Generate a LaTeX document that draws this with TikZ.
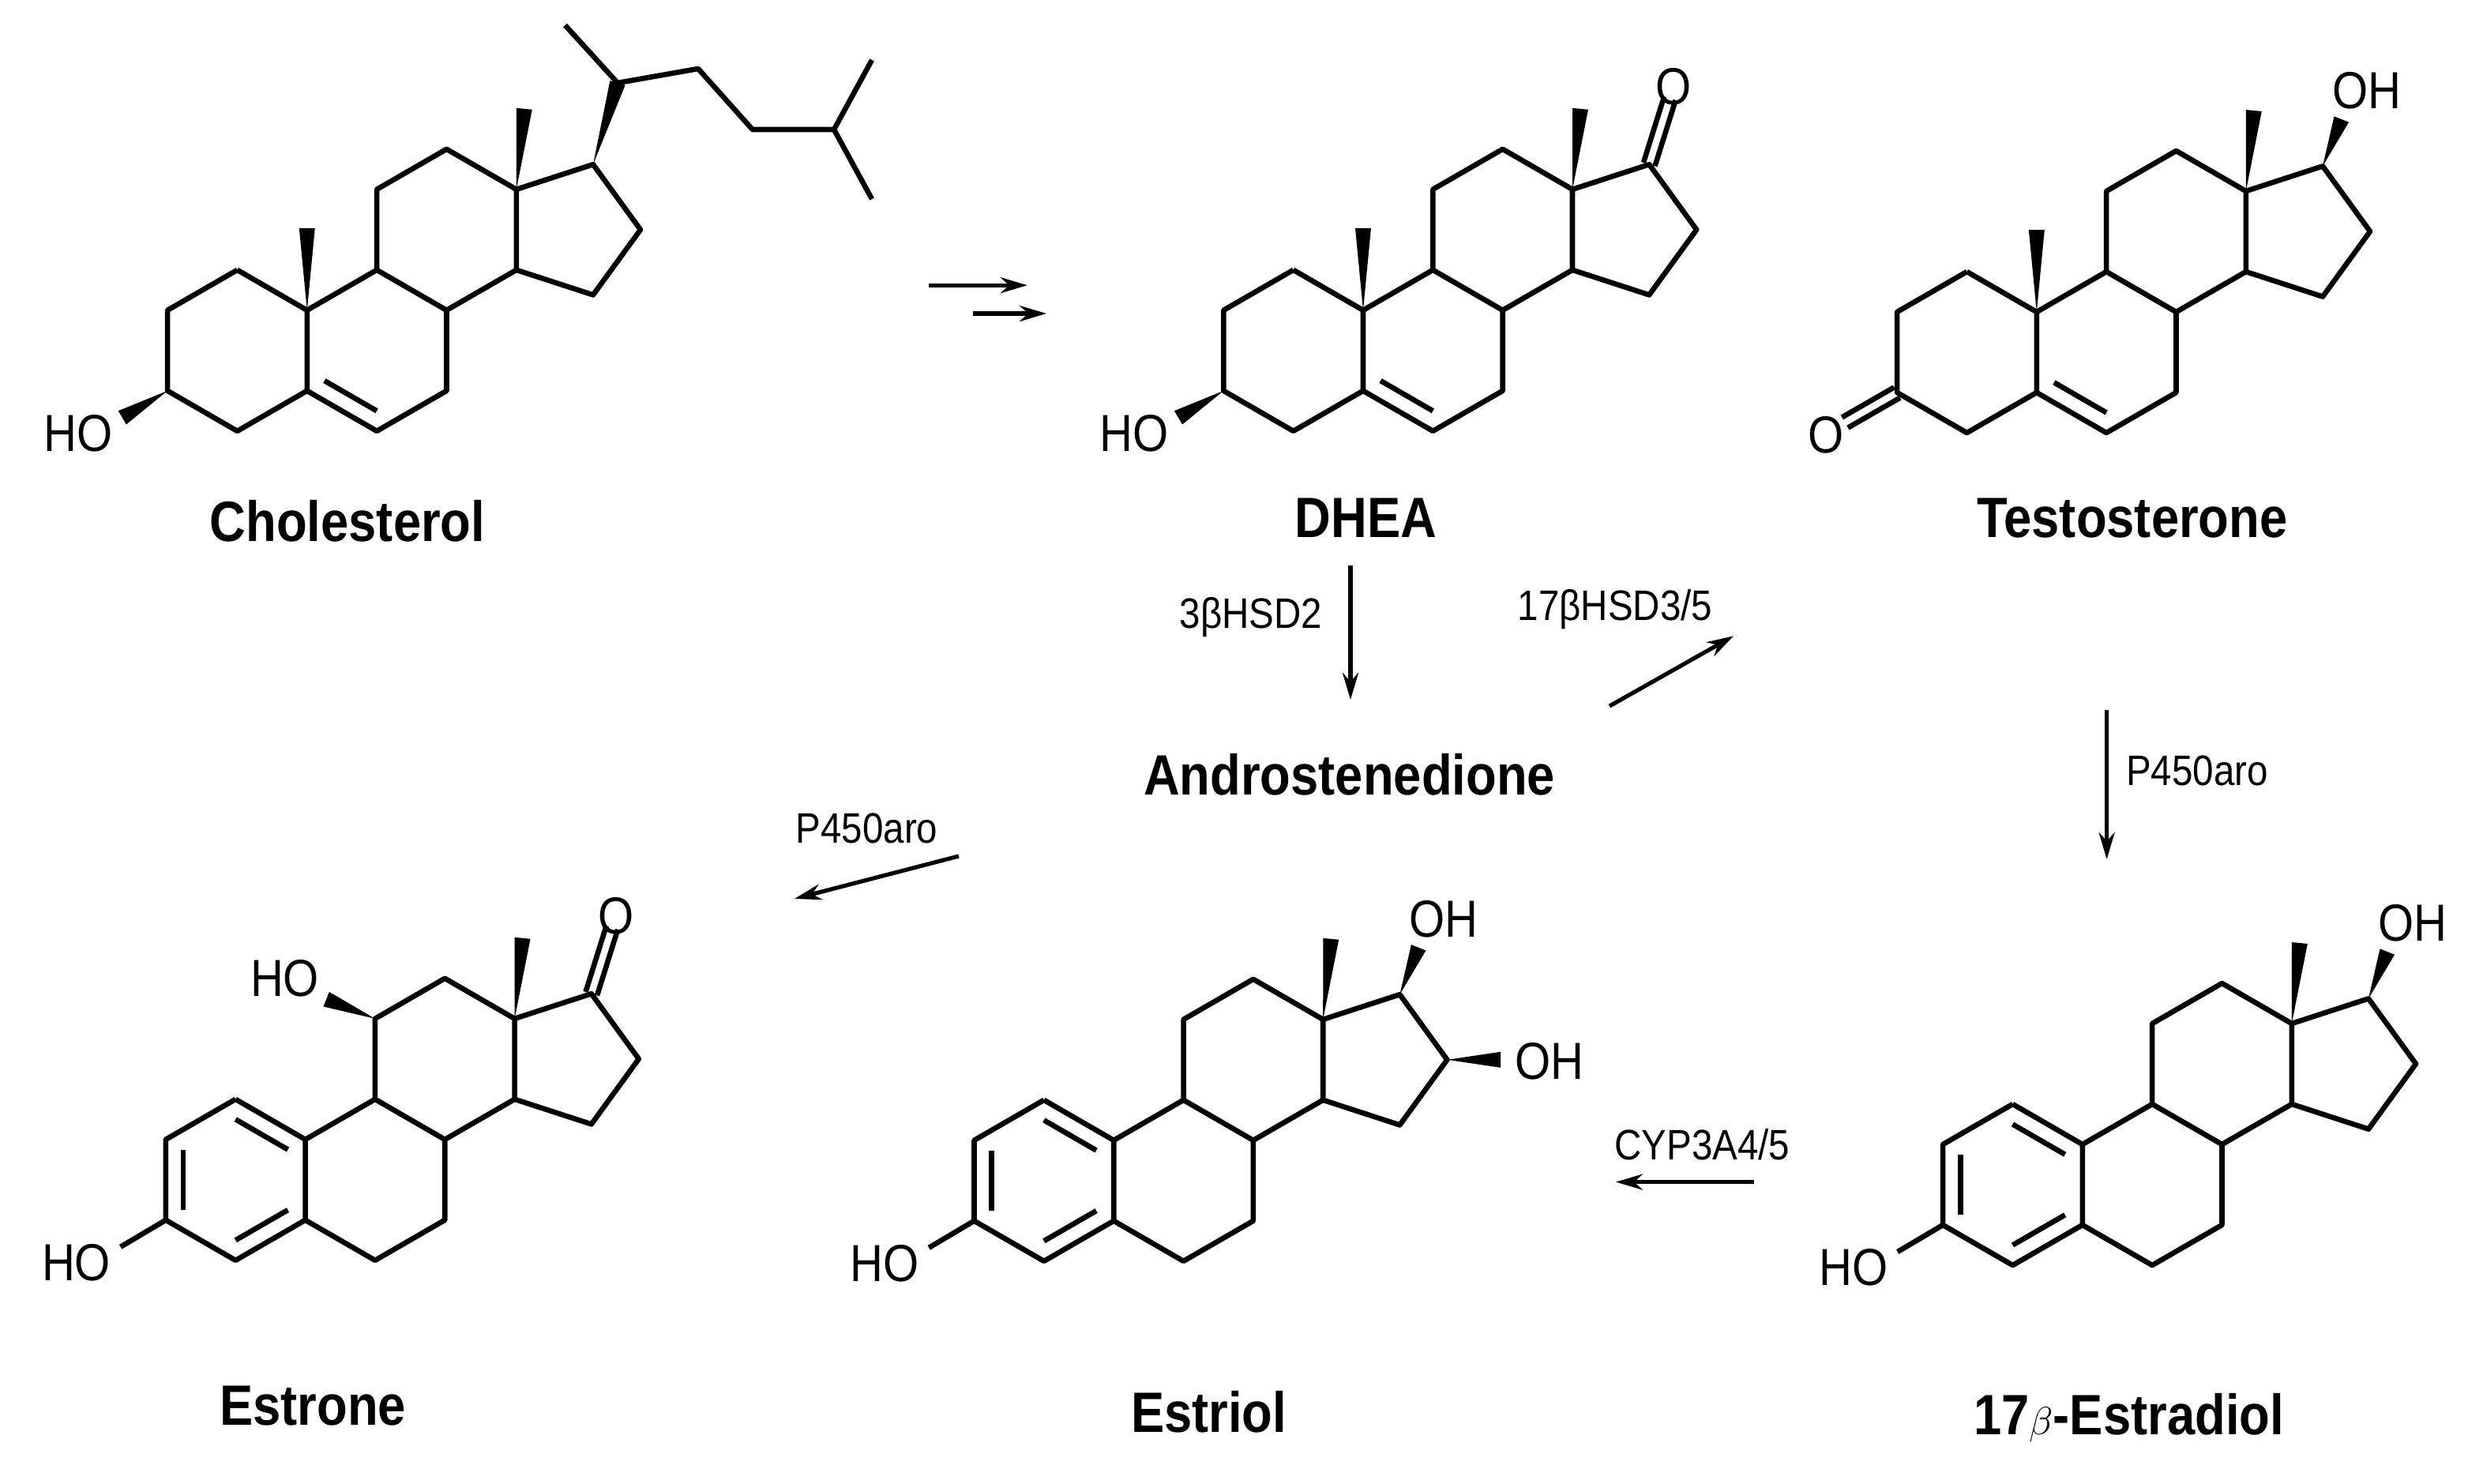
\documentclass[tikz,border=0pt]{standalone}
\usepackage{fontspec}
\setmainfont{Liberation Sans}[FakeStretch=0.88]
\usetikzlibrary{calc,arrows.meta}
\def\ssx{44.17}
\tikzset{
  bond/.style={line width=3.3pt,line join=round,line cap=butt},
  rx/.style={line width=2.6pt,-{Stealth[length=17pt,width=10pt]}},
  mol/.style={font=\bfseries\fontsize{36}{40}\selectfont,inner sep=0pt},
  atom/.style={font=\fontsize{33}{36}\selectfont,inner sep=0pt},
  enz/.style={font=\fontsize{27}{30}\selectfont,inner sep=0pt},
}
\newcommand\ster[3]{%
 \begin{scope}[shift={(#2,#3)}]
  \coordinate (#1-10) at (0,0);
  \coordinate (#1-1) at (-\ssx,-25.5);
  \coordinate (#1-2) at (-2*\ssx,0);
  \coordinate (#1-3) at (-2*\ssx,51);
  \coordinate (#1-4) at (-\ssx,76.5);
  \coordinate (#1-5) at (0,51);
  \coordinate (#1-6) at (\ssx,76.5);
  \coordinate (#1-7) at (2*\ssx,51);
  \coordinate (#1-8) at (2*\ssx,0);
  \coordinate (#1-9) at (\ssx,-25.5);
  \coordinate (#1-11) at (\ssx,-76.5);
  \coordinate (#1-12) at (2*\ssx,-102);
  \coordinate (#1-13) at (3*\ssx,-76.5);
  \coordinate (#1-14) at (3*\ssx,-25.5);
  \coordinate (#1-15) at (181.1,-9.7);
  \coordinate (#1-16) at (211.1,-51);
  \coordinate (#1-17) at (181.1,-92.3);
  \coordinate (#1-19) at (0,-52);
  \coordinate (#1-18) at (3*\ssx+5,-127.5);
  \coordinate (#1-cA) at (-\ssx,25.5);
  \coordinate (#1-cB) at (\ssx,25.5);
  \coordinate (#1-3o) at (-117,68);
  \coordinate (#1-HO) at (-145,78);
  \coordinate (#1-17o) at (193,-122);
  \coordinate (#1-OH17) at (209,-140);
  \coordinate (#1-O17) at (196.5,-141.5);
 \end{scope}
 \draw[bond] (#1-1)--(#1-2)--(#1-3)--(#1-4)--(#1-5)--(#1-10)--(#1-1);
 \draw[bond] (#1-5)--(#1-6)--(#1-7)--(#1-8)--(#1-9)--(#1-10);
 \draw[bond] (#1-9)--(#1-11)--(#1-12)--(#1-13)--(#1-14)--(#1-8);
 \draw[bond] (#1-13)--(#1-17)--(#1-16)--(#1-15)--(#1-14);
 \wdg{#1-13}{#1-18}
}
\newcommand\wdg[2]{\fill (#1) -- ($(#2)!5pt!90:(#1)$) -- ($(#2)!5pt!-90:(#1)$) -- cycle;}
\newcommand\inl[3]{\draw[bond] ($(#1)!0.25!(#3)$) -- ($(#2)!0.25!(#3)$);}
\newcommand\dbl[2]{\draw[bond] ($(#1)!3.8pt!90:(#2)$) -- ($(#2)!3.8pt!-90:(#1)$);
  \draw[bond] ($(#1)!3.8pt!-90:(#2)$) -- ($(#2)!3.8pt!90:(#1)$);}
\begin{document}
\begin{tikzpicture}[x=1pt,y=-1pt]
\useasboundingbox[fill=white] (0,0) rectangle (1572,939.5);
% Cholesterol
\ster{ch}{194.4}{196.4}
\wdg{ch-10}{ch-19}
\inl{ch-5}{ch-6}{ch-cB}
\begin{scope}[shift={(194.4,196.4)}]
 \coordinate (ch-20) at (196.6,-143.9);
 \coordinate (ch-21) at (163.4,-180.4);
 \coordinate (ch-22) at (247.6,-152.9);
 \coordinate (ch-23) at (282,-114.4);
 \coordinate (ch-24) at (333.6,-114.4);
 \coordinate (ch-26) at (357.6,-158.4);
 \coordinate (ch-27) at (357.6,-70.4);
\end{scope}
\wdg{ch-17}{ch-20}
\draw[bond] (ch-21)--(ch-20)--(ch-22)--(ch-23)--(ch-24)--(ch-26);
\draw[bond] (ch-24)--(ch-27);
\wdg{ch-3}{ch-3o}
\node[atom] (chHO) at (ch-HO) {HO};
\node[mol] (nch) at (220,330) {Cholesterol};
% DHEA
\ster{dh}{863}{196.4}
\wdg{dh-10}{dh-19}
\inl{dh-5}{dh-6}{dh-cB}
\wdg{dh-3}{dh-3o}
\node[atom] (dhHO) at (dh-HO) {HO};
\coordinate (dh-Oe) at ($(dh-17)!0.85!(dh-O17)$);
\dbl{dh-17}{dh-Oe}
\node[atom] (dhO) at (dh-O17) {O};
\node[mol] (ndh) at (864.7,328) {DHEA};
% Testosterone
\ster{te}{1289.4}{197.5}
\wdg{te-10}{te-19}
\inl{te-5}{te-6}{te-cB}
\coordinate (te-Oe) at ($(te-3)+(-33,19)$);
\dbl{te-3}{te-Oe}
\node[atom] (teO) at ($(te-3)+(-45,27)$) {O};
\wdg{te-17}{te-17o}
\node[atom] (teOH) at (te-OH17) {OH};
\node[mol] (nte) at (1350,328) {Testosterone};
% Estrone
\ster{eo}{193.3}{721.4}
\inl{eo-1}{eo-10}{eo-cA}
\inl{eo-2}{eo-3}{eo-cA}
\inl{eo-4}{eo-5}{eo-cA}
\draw[bond] (eo-3)--(eo-3o);
\node[atom] (eoHO) at (eo-HO) {HO};
\coordinate (eo-11o) at ($(eo-10)+(13.3,-88.8)$);
\wdg{eo-11}{eo-11o}
\node[atom] (eoHO11) at ($(eo-10)+(-13,-102)$) {HO};
\coordinate (eo-Oe) at ($(eo-17)!0.85!(eo-O17)$);
\dbl{eo-17}{eo-Oe}
\node[atom] (eoO) at (eo-O17) {O};
\node[mol] (neo) at (198,890) {Estrone};
% Estriol
\ster{et}{705.1}{721.9}
\inl{et-1}{et-10}{et-cA}
\inl{et-2}{et-3}{et-cA}
\inl{et-4}{et-5}{et-cA}
\draw[bond] (et-3)--(et-3o);
\node[atom] (etHO) at (et-HO) {HO};
\wdg{et-17}{et-17o}
\node[atom] (etOH) at (et-OH17) {OH};
\coordinate (et-16o) at ($(et-10)+(245,-51)$);
\wdg{et-16}{et-16o}
\node[atom] (etOH16) at ($(et-10)+(276,-50)$) {OH};
\node[mol] (net) at (765.3,893.7) {Estriol};
% Estradiol
\ster{ed}{1318.4}{724.5}
\inl{ed-1}{ed-10}{ed-cA}
\inl{ed-2}{ed-3}{ed-cA}
\inl{ed-4}{ed-5}{ed-cA}
\draw[bond] (ed-3)--(ed-3o);
\node[atom] (edHO) at (ed-HO) {HO};
\wdg{ed-17}{ed-17o}
\node[atom] (edOH) at (ed-OH17) {OH};
\node[mol] (ned) at (1347.8,897.7) {17$\beta$-Estradiol};
% Androstenedione
\node[mol] (nan) at (854.3,490.6) {Androstenedione};
% arrows
\coordinate (a1s) at (588,180.6); \coordinate (a1e) at (650.4,180.6);
\coordinate (a2s) at (616,198.5); \coordinate (a2e) at (662.5,198.5);
\draw[rx] (a1s)--(a1e);
\draw[rx] (a2s)--(a2e);
\coordinate (b1) at (855,358); \coordinate (b2) at (855,443);
\draw[rx] (b1)--(b2);
\node[enz] (e1) at (792,391) {3βHSD2};
\coordinate (c1) at (1019,447); \coordinate (c2) at (1097.6,402.6);
\draw[rx] (c1)--(c2);
\node[enz] (e2) at (1022.5,386) {17βHSD3/5};
\coordinate (d1) at (1333.8,449.7); \coordinate (d2) at (1333.8,544);
\draw[rx] (d1)--(d2);
\node[enz] (e3) at (1391,488) {P450aro};
\coordinate (f1) at (607,542); \coordinate (f2) at (503,569);
\draw[rx] (f1)--(f2);
\node[enz] (e4) at (548.8,524.5) {P450aro};
\coordinate (g1) at (1110.5,748.3); \coordinate (g2) at (1023,748.3);
\draw[rx] (g1)--(g2);
\node[enz] (e5) at (1077.7,724.5) {CYP3A4/5};
\end{tikzpicture}
\end{document}
